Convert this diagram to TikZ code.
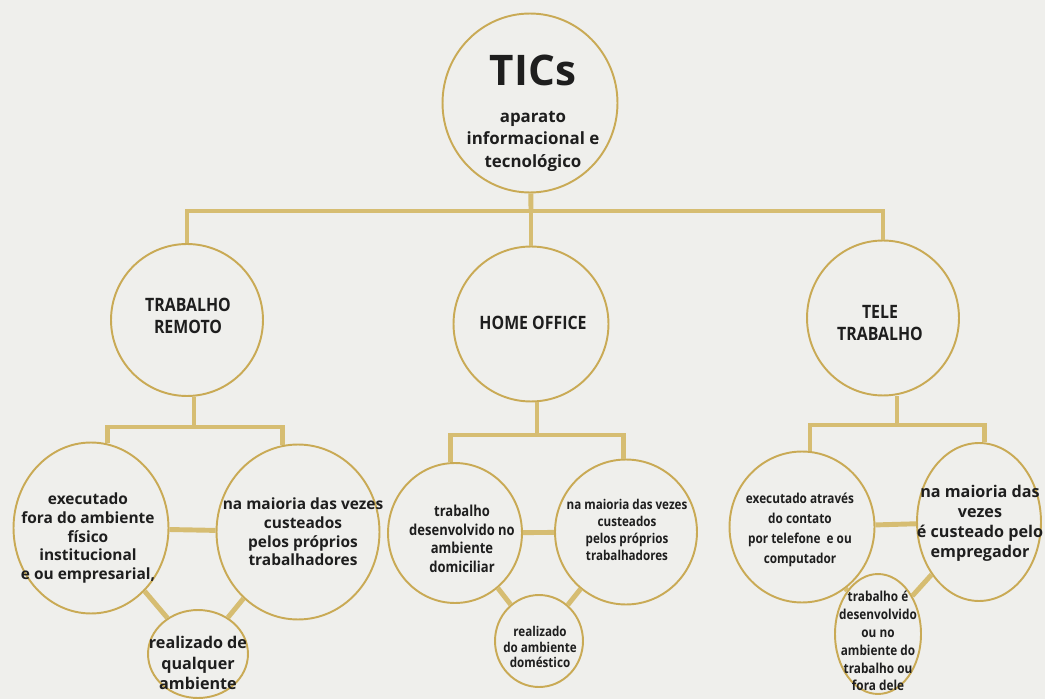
\documentclass[tikz,border=0pt]{standalone}
\usepackage{fontspec}
\setmainfont{Open Sans}
\newfontfamily\narrowfont{Open Sans}[FakeStretch=0.86]
\usetikzlibrary{shapes.geometric}

\definecolor{paper}{HTML}{EFEFEC}
\definecolor{goldring}{HTML}{C9AA55}
\definecolor{goldlink}{HTML}{D6BD72}
\definecolor{ink}{HTML}{1E1E1E}

\tikzset{
	bubble/.style={ellipse, draw=goldring, line width=1.1pt, inner sep=0pt},
	caption/.style={align=center, text=ink, inner sep=0pt},
	link/.style={draw=goldlink, line width=2.8pt}
}

\begin{document}
\begin{tikzpicture}[x=0.02cm, y=-0.02cm]
		\fill[paper] (0,0) rectangle (1045,699);
		\useasboundingbox (0,0) rectangle (1045,699);

		% top
		\node[bubble, minimum width=3.5cm, minimum height=3.58cm] (tics) at (530,103) {};
		\node[caption, font=\bfseries\fontsize{24}{26}\selectfont] (ticsTitle) at (533,70) {TICs};
		\node[caption, font=\bfseries\fontsize{9.6}{12.8}\selectfont] (ticsSub) at (533,141) {aparato\\informacional e\\tecnológico};

		% second row
		\node[bubble, minimum width=3.04cm, minimum height=3.04cm] (remoto) at (187,320) {};
		\node[bubble, minimum width=3.1cm, minimum height=3.1cm] (home) at (531,324) {};
		\node[bubble, minimum width=3.04cm, minimum height=3.1cm] (tele) at (883,318) {};

		\node[caption, font=\narrowfont\bfseries\fontsize{10.5}{12.5}\selectfont] (remotoText) at (188,316) {TRABALHO\\REMOTO};
		\node[caption, font=\narrowfont\bfseries\fontsize{10.5}{12.5}\selectfont] (homeText) at (533,323) {HOME OFFICE};
		\node[caption, font=\narrowfont\bfseries\fontsize{10.5}{12.5}\selectfont] (teleText) at (880,323) {TELE\\TRABALHO};

		\coordinate (hubTop) at (531,211);
		\coordinate (hubA) at (194,427);
		\coordinate (hubB) at (537,435);
		\coordinate (hubC) at (897,425);

		% trabalho remoto
		\node[bubble, minimum width=3.1cm, minimum height=3.42cm] (execA) at (91,528) {};
		\node[bubble, minimum width=3.26cm, minimum height=3.5cm] (custA) at (298,532) {};
		\node[bubble, minimum width=2cm, minimum height=1.76cm] (realA) at (198,654) {};

		\node[caption, font=\bfseries\fontsize{8.8}{10.6}\selectfont] (execAText) at (88,538) {executado\\fora do ambiente\\físico\\institucional\\e ou empresarial,};
		\node[caption, font=\bfseries\fontsize{8.8}{10.6}\selectfont] (custAText) at (303,532) {na maioria das vezes\\custeados\\pelos próprios\\trabalhadores};
		\node[caption, font=\bfseries\fontsize{9.2}{11.5}\selectfont] (realAText) at (198,663) {realizado de\\qualquer\\ambiente};

		% home office
		\node[bubble, minimum width=2.68cm, minimum height=2.8cm] (domic) at (455,533) {};
		\node[bubble, minimum width=2.84cm, minimum height=2.9cm] (custB) at (626,532) {};
		\node[bubble, minimum width=1.76cm, minimum height=1.84cm] (realB) at (539,641) {};

		\node[caption, font=\narrowfont\bfseries\fontsize{8.6}{10.6}\selectfont] (domicText) at (462,539) {trabalho\\desenvolvido no\\ambiente\\domiciliar};
		\node[caption, font=\narrowfont\bfseries\fontsize{7.7}{9.8}\selectfont] (custBText) at (627,530) {na maioria das vezes\\custeados\\pelos próprios\\trabalhadores};
		\node[caption, font=\narrowfont\bfseries\fontsize{7.7}{9}\selectfont] (realBText) at (540,647) {realizado\\do ambiente\\doméstico};

		% tele trabalho
		\node[bubble, minimum width=2.9cm, minimum height=3.02cm] (execC) at (802,527) {};
		\node[bubble, minimum width=2.48cm, minimum height=3.16cm] (custC) at (979,522) {};
		\node[bubble, minimum width=1.72cm, minimum height=2.4cm] (foraC) at (878,634) {};

		\node[caption, font=\narrowfont\bfseries\fontsize{7.8}{11.3}\selectfont] (execCText) at (800,530) {executado através\\do contato\\por telefone~ e ou\\computador};
		\node[caption, font=\bfseries\fontsize{9.2}{11.4}\selectfont] (custCText) at (980,523) {na maioria das\\vezes\\é custeado pelo\\empregador};
		\node[caption, font=\narrowfont\bfseries\fontsize{7.8}{10.2}\selectfont] (foraCText) at (878,641) {trabalho é\\desenvolvido\\ou no\\ambiente do\\trabalho ou\\fora dele};

		% connectors
		\draw[link] (tics) -- (hubTop);
		\draw[link] (home) -- (hubTop);
		\draw[link] (remoto) |- (hubTop);
		\draw[link] (tele) |- (hubTop);

		\draw[link] (remoto.south -| hubA) -- (hubA);
		\draw[link] (execA.79) |- (hubA) -| (custA.100);
		\draw[link] (execA) -- (custA);
		\draw[link] (execA) -- (realA);
		\draw[link] (custA) -- (realA);

		\draw[link] (home.south -| hubB) -- (hubB);
		\draw[link] (domic.94) |- (hubB) -| (custB.92);
		\draw[link] (domic) -- (custB);
		\draw[link] (domic) -- (realB);
		\draw[link] (custB) -- (realB);

		\draw[link] (tele.south -| hubC) -- (hubC);
		\draw[link] (execC.84) |- (hubC) -| (custC.86);
		\draw[link] (execC) -- (custC);
		\draw[link] (execC) -- (foraC);
		\draw[link] (custC) -- (foraC);
	\end{tikzpicture}
\end{document}
